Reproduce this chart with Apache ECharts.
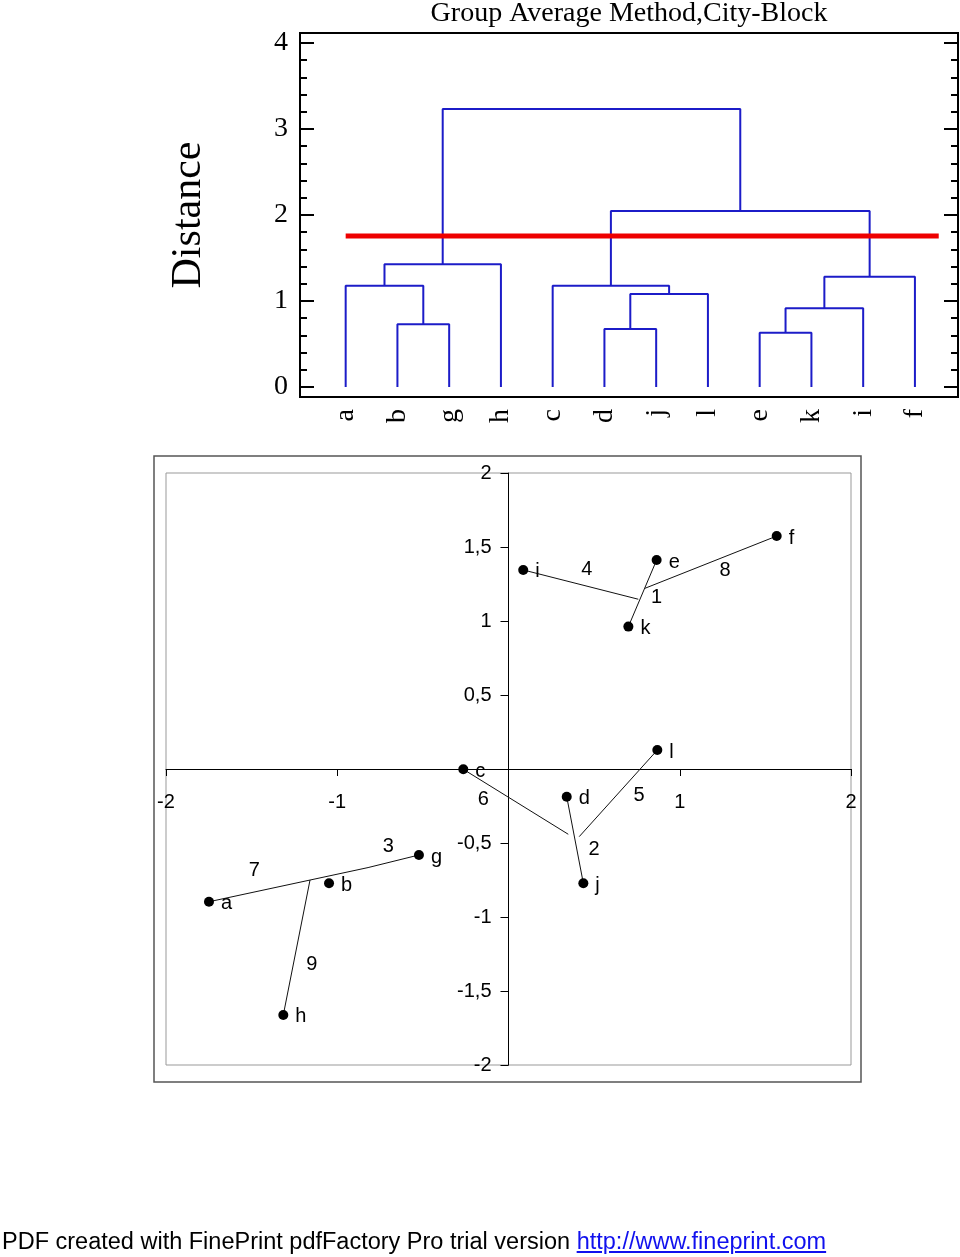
<!DOCTYPE html>
<html>
<head>
<meta charset="utf-8">
<script src="https://cdn.jsdelivr.net/npm/echarts@6/dist/echarts.min.js"></script>
<style>
  body { margin: 0; background: #fff; }
  #chart { width: 960px; height: 1257px; }
  #footer {
    position: absolute; left: 2px; top: 1230px;
    font-family: "Liberation Sans", Arial, sans-serif; font-size: 23.5px; line-height: 23.5px;
    color: #000; white-space: nowrap;
  }
  #footer span { color: #1010ee; text-decoration: underline; }
</style>
</head>
<body>
<div id="chart"></div>
<div id="footer">PDF created with FinePrint pdfFactory Pro trial version <span>http://www.fineprint.com</span></div>
<script>
// dendrogram: leaf order and merges (node ids: leaves 0..11, merges 12..)
const leaves = ['a', 'b', 'g', 'h', 'c', 'd', 'j', 'l', 'e', 'k', 'i', 'f'];
const mergeLeft = [8, 5, 1, 12, 13, 4, 0, 15, 18, 17, 20];
const mergeRight = [9, 6, 2, 10, 7, 16, 14, 11, 3, 19, 21];
const mergeHeight = [0.632, 0.674, 0.729, 0.915, 1.081, 1.178, 1.178, 1.283, 1.427, 2.047, 3.233];
const cutHeight = 1.756;
const cutFrom = 0;
const cutTo = 11.46;

// scatter of the objects
const pointNames = ['a', 'b', 'c', 'd', 'e', 'f', 'g', 'h', 'i', 'j', 'k', 'l'];
const pointX = [-1.749, -1.048, -0.264, 0.340, 0.865, 1.566, -0.523, -1.315, 0.086, 0.437, 0.700, 0.869];
const pointY = [-0.897, -0.772, -0.002, -0.187, 1.412, 1.574, -0.581, -1.662, 1.345, -0.772, 0.962, 0.128];

// joining segments, numbered by merge order
const joinNo = ['1', '2', '3', '4', '5', '6', '7', '8', '9'];
const joinStart = [[0.865, 1.412], [0.340, -0.187], [-0.820, -0.666], [0.086, 1.345], [0.869, 0.128],
                   [-0.264, -0.002], [-1.749, -0.897], [1.566, 1.574], [-1.315, -1.662]];
const joinEnd = [[0.700, 0.962], [0.437, -0.772], [-0.523, -0.581], [0.758, 1.147], [0.413, -0.457],
                 [0.349, -0.441], [-0.820, -0.666], [0.797, 1.221], [-1.159, -0.750]];
const joinLabelX = [0.865, 0.499, -0.702, 0.457, 0.762, -0.147, -1.484, 1.264, -1.149];
const joinLabelY = [1.160, -0.547, -0.525, 1.345, -0.176, -0.209, -0.687, 1.340, -1.324];

const serif = '"Liberation Serif", "Times New Roman", serif';
const sans = '"Liberation Sans", Arial, sans-serif';

const chart = echarts.init(document.getElementById('chart'), null, { renderer: 'canvas' });

// node positions in the dendrogram
const nodeX = leaves.map((l, i) => i);
const nodeH = leaves.map(() => 0);
mergeHeight.forEach((h, m) => {
    nodeX.push((nodeX[mergeLeft[m]] + nodeX[mergeRight[m]]) / 2);
    nodeH.push(h);
});

const series = [];
mergeHeight.forEach((h, m) => {
    const l = mergeLeft[m], r = mergeRight[m];
    series.push({
        type: 'line', xAxisIndex: 0, yAxisIndex: 0, symbol: 'none', silent: true, z: 2,
        lineStyle: { color: '#1c1cc8', width: 2 },
        data: [[nodeX[l], nodeH[l]], [nodeX[l], h], [nodeX[r], h], [nodeX[r], nodeH[r]]]
    });
});
series.push({
    type: 'line', xAxisIndex: 0, yAxisIndex: 0, symbol: 'none', silent: true, z: 3,
    lineStyle: { color: '#ee0000', width: 5 },
    data: [[cutFrom, cutHeight], [cutTo, cutHeight]]
});

joinNo.forEach((n, i) => {
    series.push({
        type: 'line', xAxisIndex: 2, yAxisIndex: 2, symbol: 'none', silent: true, z: 2,
        lineStyle: { color: '#111', width: 1 },
        data: [joinStart[i], joinEnd[i]]
    });
});

// points and the join numbers share one scatter series (numbers have no symbol)
const scatterData = pointNames.map((n, i) => ({ name: n, value: [pointX[i], pointY[i]] }))
    .concat(joinNo.map((n, i) => ({
        name: n, value: [joinLabelX[i], joinLabelY[i]], symbolSize: 0,
        label: { position: [0, 0], align: 'center', verticalAlign: 'middle', offset: [0, 0] }
    })));

series.push({
    type: 'scatter', xAxisIndex: 2, yAxisIndex: 2, symbolSize: 10, silent: true, z: 4,
    itemStyle: { color: '#000', opacity: 1 },
    label: { show: true, position: 'right', distance: 7, offset: [0, 2], formatter: '{b}',
             color: '#000', fontFamily: sans, fontSize: 20 },
    data: scatterData
});

const decimalComma = v => v === 0 ? '' : String(v).replace('.', ',');

// scatter plot area; axes cross at the origin
const sc = { left: 166, top: 473, width: 685, height: 592, min: -2, max: 2 };
const xCrossOffset = -(0 - sc.min) / (sc.max - sc.min) * sc.height;
const yCrossOffset = -(0 - sc.min) / (sc.max - sc.min) * sc.width;

chart.setOption({
    animation: false,
    backgroundColor: '#fff',
    grid: [
        { left: 300, top: 33, width: 658, height: 364, show: true, borderColor: '#000', borderWidth: 2,
          backgroundColor: 'transparent', outerBoundsMode: 'none' },
        { left: 319.8, top: 43, width: 621, height: 344, outerBoundsMode: 'none' },
        { left: 154, top: 456, width: 707, height: 626, show: true, borderColor: '#555', borderWidth: 1.5,
          backgroundColor: 'transparent', outerBoundsMode: 'none' },
        { left: sc.left, top: sc.top, width: sc.width, height: sc.height, show: true, borderColor: '#999',
          borderWidth: 1, backgroundColor: 'transparent', outerBoundsMode: 'none' }
    ],
    xAxis: [
        { type: 'value', gridIndex: 1, position: 'bottom', min: -0.5, max: 11.5, show: false },
        { type: 'category', gridIndex: 1, position: 'bottom', data: leaves, boundaryGap: true,
          axisLine: { show: false, onZero: false }, axisTick: { show: false }, splitLine: { show: false },
          axisLabel: { rotate: 90, margin: 22, color: '#000', fontFamily: serif, fontSize: 28 } },
        { type: 'value', gridIndex: 3, position: 'bottom', offset: xCrossOffset,
          min: sc.min, max: sc.max, interval: 1,
          axisLine: { onZero: false, lineStyle: { color: '#000', width: 1 } },
          axisTick: { length: 7, lineStyle: { color: '#000', width: 1 } },
          splitLine: { show: false },
          axisLabel: { margin: 23, color: '#000', fontFamily: sans, fontSize: 20, formatter: decimalComma } }
    ],
    yAxis: [
        { type: 'value', gridIndex: 1, min: 0, max: 4, interval: 1, position: 'left', offset: 19.8,
          axisLine: { show: false, onZero: false },
          axisTick: { inside: true, length: 14, lineStyle: { color: '#000', width: 2 } },
          minorTick: { show: true, splitNumber: 5, length: 7, lineStyle: { color: '#000', width: 2 } },
          splitLine: { show: false },
          axisLabel: { margin: 12, color: '#000', fontFamily: serif, fontSize: 28 } },
        { type: 'value', gridIndex: 1, min: 0, max: 4, interval: 1, position: 'right', offset: 17.2,
          axisLine: { show: false, onZero: false },
          axisTick: { inside: true, length: 14, lineStyle: { color: '#000', width: 2 } },
          minorTick: { show: true, splitNumber: 5, length: 7, lineStyle: { color: '#000', width: 2 } },
          splitLine: { show: false }, axisLabel: { show: false } },
        { type: 'value', gridIndex: 3, position: 'left', offset: yCrossOffset,
          min: sc.min, max: sc.max, interval: 0.5,
          axisLine: { onZero: false, lineStyle: { color: '#000', width: 1 } },
          axisTick: { length: 8, lineStyle: { color: '#000', width: 1 } },
          splitLine: { show: false },
          axisLabel: { margin: 17, color: '#000', fontFamily: sans, fontSize: 20, formatter: decimalComma } }
    ],
    graphic: [
        { type: 'text', x: 629, y: 14, silent: true,
          style: { text: 'Group Average Method,City-Block', align: 'center', verticalAlign: 'middle',
                   font: '28px ' + serif, fill: '#000' } },
        { type: 'text', x: 189, y: 215, rotation: Math.PI / 2, silent: true,
          style: { text: 'Distance', align: 'center', verticalAlign: 'middle',
                   font: '42px ' + serif, fill: '#000' } }
    ],
    series: series
});
</script>
</body>
</html>
